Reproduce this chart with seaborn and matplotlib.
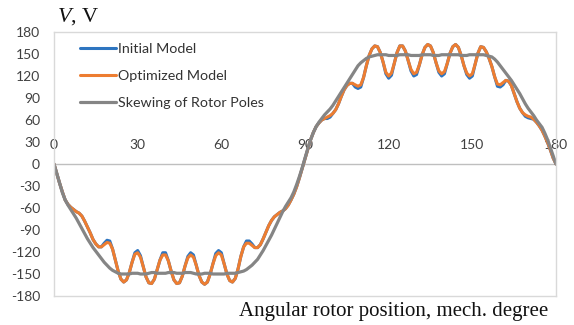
import matplotlib
matplotlib.use("Agg")
import matplotlib.pyplot as plt
import seaborn as sns
import pandas as pd

angle = list(range(0, 181))

initial_model = [
    0, -13, -26, -38, -49, -55, -59, -62, -65, -67,
    -71, -78, -86, -94, -103, -109, -113, -113, -108, -104,
    -105, -116, -131, -146, -157, -161, -158, -148, -134, -121,
    -118, -125, -140, -154, -162, -163, -157, -144, -131, -121,
    -121, -132, -146, -158, -163, -162, -153, -139, -126, -121,
    -124, -138, -152, -161, -164, -161, -150, -136, -122, -118,
    -121, -136, -150, -159, -161, -156, -143, -126, -113, -105,
    -105, -109, -114, -114, -110, -102, -93, -84, -77, -72,
    -69, -66, -64, -61, -56, -49, -41, -31, -19, -6,
    7, 20, 33, 43, 51, 56, 60, 62, 62, 64,
    69, 74, 82, 92, 101, 107, 110, 110, 105, 103,
    105, 118, 134, 148, 157, 161, 160, 152, 139, 123,
    117, 121, 137, 152, 161, 161, 154, 141, 127, 120,
    122, 135, 149, 159, 163, 161, 152, 138, 125, 120,
    123, 137, 151, 160, 163, 159, 148, 134, 122, 117,
    120, 136, 151, 160, 159, 153, 144, 133, 119, 106,
    105, 108, 114, 113, 107, 96, 85, 76, 70, 65,
    63, 62, 61, 57, 52, 46, 38, 29, 19, 8,
    0,
]

optimized_model = [
    0, -13, -26, -38, -49, -55, -59, -62, -65, -67,
    -71, -78, -86, -94, -103, -109, -113, -113, -110, -107,
    -108, -116, -131, -146, -157, -161, -158, -148, -134, -123,
    -121, -127, -140, -154, -162, -163, -157, -144, -131, -124,
    -124, -132, -146, -158, -163, -162, -153, -139, -128, -124,
    -127, -138, -152, -161, -164, -161, -150, -136, -125, -121,
    -124, -136, -150, -159, -161, -156, -143, -126, -113, -108,
    -108, -111, -114, -114, -110, -102, -93, -84, -77, -72,
    -69, -66, -64, -61, -56, -49, -41, -31, -19, -6,
    7, 20, 33, 43, 51, 56, 60, 62, 64, 66,
    69, 74, 82, 92, 101, 107, 110, 110, 108, 106,
    108, 118, 134, 148, 157, 161, 160, 152, 139, 125,
    120, 124, 137, 152, 161, 161, 154, 141, 129, 123,
    125, 135, 149, 159, 163, 161, 152, 138, 127, 123,
    126, 137, 151, 160, 163, 159, 148, 134, 124, 120,
    123, 136, 151, 160, 159, 153, 144, 133, 119, 109,
    108, 111, 114, 113, 107, 96, 85, 76, 70, 67,
    65, 64, 61, 57, 52, 46, 38, 29, 19, 8,
    0,
]

skewing = [
    0, -13, -26, -39, -49, -56, -62, -68, -74, -81,
    -88, -95, -102, -108, -114, -119, -124, -129, -134, -138,
    -142, -145, -147, -149, -150, -150, -150, -150, -149, -149,
    -149, -150, -150, -150, -149, -148, -148, -149, -149, -149,
    -149, -148, -148, -148, -149, -149, -149, -148, -148, -148,
    -149, -150, -150, -150, -149, -149, -149, -150, -150, -150,
    -150, -150, -149, -149, -149, -149, -148, -147, -146, -144,
    -141, -138, -134, -130, -124, -118, -111, -104, -97, -89,
    -81, -73, -65, -58, -52, -46, -38, -28, -17, -5,
    8, 21, 33, 43, 51, 57, 62, 67, 71, 75,
    80, 86, 92, 98, 104, 110, 116, 122, 128, 134,
    138, 141, 144, 146, 147, 148, 149, 149, 149, 149,
    148, 148, 148, 148, 149, 149, 149, 149, 148, 148,
    148, 148, 149, 149, 149, 149, 148, 148, 148, 149,
    149, 149, 149, 149, 149, 149, 148, 148, 148, 149,
    149, 149, 149, 149, 149, 148, 147, 146, 143, 139,
    134, 129, 124, 119, 114, 108, 102, 96, 89, 82,
    76, 71, 66, 60, 55, 50, 42, 33, 22, 11,
    0,
]

series_names = ["Initial Model", "Optimized Model", "Skewing of Rotor Poles"]
y_ticks = list(range(-180, 181, 30))
x_ticks = list(range(0, 181, 30))
x_label = "Angular rotor position, mech. degree"

sns.set_theme(style="white")
plt.rcParams["font.family"] = ["Lato", "DejaVu Sans"]
plt.rcParams["mathtext.fontset"] = "custom"
plt.rcParams["mathtext.it"] = "Liberation Serif:italic"
plt.rcParams["mathtext.rm"] = "Liberation Serif"

df = pd.DataFrame({
    "angle": angle,
    series_names[0]: initial_model,
    series_names[1]: optimized_model,
    series_names[2]: skewing,
})

fig = plt.figure(figsize=(5.74, 3.25), dpi=100)
ax = fig.add_axes([54 / 574, 29 / 325, 502 / 574, 264 / 325])

ax.axhline(0, color="#bfbfbf", linewidth=1.0, zorder=0.5)

colors = ["#2e75c0", "#ed7d31", "#858585"]
widths = [2.2, 2.2, 2.3]
for name, c, w in zip(series_names, colors, widths):
    sns.lineplot(data=df, x="angle", y=name, ax=ax, color=c, linewidth=w,
                 label=name, legend=False)

ax.set_xlim(0, 180)
ax.set_ylim(-180, 180)
ax.set_yticks(y_ticks)
ax.set_yticklabels([str(v) for v in y_ticks])
ax.tick_params(axis="y", length=0, pad=10, labelsize=10, labelcolor="#404040")
ax.set_xticks([])
ax.set_xlabel("")
ax.set_ylabel("")
for s in ax.spines.values():
    s.set_color("#d9d9d9")
    s.set_linewidth(1.0)

sec = ax.secondary_xaxis(0.5)
sec.set_xticks(x_ticks)
sec.set_xticklabels([str(v) for v in x_ticks])
sec.tick_params(axis="x", length=0, pad=9, labelsize=10, labelcolor="#404040")
for s in sec.spines.values():
    s.set_visible(False)

ax.text(3 / 502, 1.02, "$V$, V", transform=ax.transAxes, fontsize=16,
        family="Liberation Serif", ha="left", va="bottom", color="#111111")
ax.text(494 / 502, -0.022, x_label, transform=ax.transAxes, fontsize=15,
        family="Liberation Serif", ha="right", va="top", color="#111111")

line_handles = [l for l in ax.lines if l.get_label() in series_names]
ax.legend(handles=line_handles, labels=series_names, loc="upper left",
          bbox_to_anchor=(0.052, 0.958), frameon=False, borderpad=0,
          borderaxespad=0, labelspacing=1.05, handlelength=2.5,
          handletextpad=0.15, fontsize=10.3, labelcolor="#333333")

fig.savefig("out.png", dpi=100)
